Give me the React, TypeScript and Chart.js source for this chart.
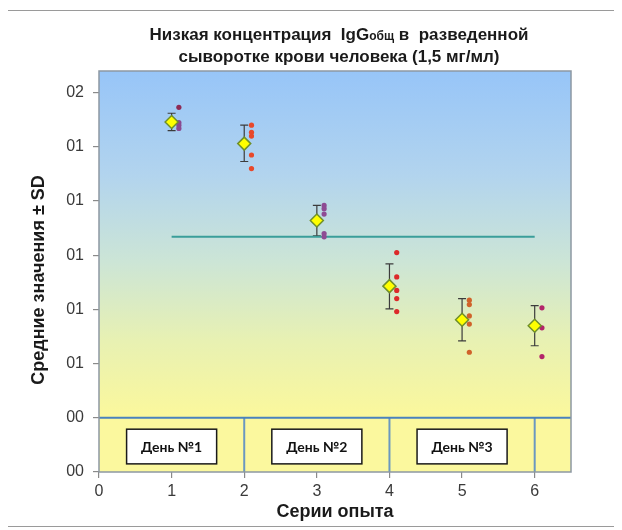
import React, { useEffect, useRef } from 'react';
import { Chart, registerables } from 'chart.js';
Chart.register(...registerables);

// ---- data ----
const seriesX = [1, 2, 3, 4, 5, 6];
const means = [6.46, 6.06, 4.64, 3.43, 2.81, 2.7];
const sdHigh = [6.62, 6.4, 4.92, 3.84, 3.2, 3.07];
const sdLow = [6.3, 5.73, 4.36, 3.01, 2.42, 2.33];
const rep1 = [6.73, 6.45, 6.4, 6.34];
const rep2 = [6.4, 6.27, 6.2, 5.85, 5.6];
const rep3 = [4.92, 4.86, 4.76, 4.4, 4.34];
const rep4 = [4.05, 3.6, 3.35, 3.2, 2.96];
const rep5 = [3.17, 3.09, 2.88, 2.73, 2.21];
const rep6 = [3.03, 2.66, 2.13];
const replicates = [rep1, rep2, rep3, rep4, rep5, rep6];
const replicateColors = [
  ['#8e2a55', '#8a4a90', '#8a4a90', '#8a4a90'],
  ['#e8482a', '#e8482a', '#e8482a', '#e8482a', '#e8482a'],
  ['#8e4b94', '#8e4b94', '#8e4b94', '#8e4b94', '#8e4b94'],
  ['#dc2a2a', '#dc2a2a', '#dc2a2a', '#dc2a2a', '#dc2a2a'],
  ['#d0622a', '#d0622a', '#d0622a', '#d0622a', '#d0622a'],
  ['#b3246a', '#b3246a', '#b3246a'],
];
const replicateOffset = 0.1;
const yTickLabels = ['00', '00', '01', '01', '01', '01', '01', '02'];
const xTickValues = [0, 1, 2, 3, 4, 5, 6];
const baselineY = 1;
const dayBoundaries = [2, 4, 6];
const dayLabels = ['День №1', 'День №2', 'День №3'];
const dayCenters = [1, 3, 5];
const refLevel = 4.34;
const refFrom = 1;
const refTo = 6;
const titleLine1 = ['Низкая концентрация  IgG', 'общ', ' в  разведенной'];
const titleLine2 = 'сыворотке крови человека (1,5 мг/мл)';
const xTitle = 'Серии опыта';
const yTitle = 'Средние значения ± SD';

const SANS = '"Liberation Sans", Arial, sans-serif';

const decorPlugin = {
  id: 'decor',
  beforeDraw(chart: any) {
    const { ctx, chartArea: a, scales } = chart;
    const yb = scales.y.getPixelForValue(baselineY);
    ctx.save();
    const g = ctx.createLinearGradient(0, a.top, 0, yb);
    g.addColorStop(0, '#97c5f8');
    g.addColorStop(0.3, '#b2d4ee');
    g.addColorStop(0.55, '#cce5d6');
    g.addColorStop(0.78, '#e8f1b2');
    g.addColorStop(1, '#fbf89c');
    ctx.fillStyle = g;
    ctx.fillRect(a.left, a.top, a.right - a.left, yb - a.top);
    ctx.fillStyle = '#fbf89e';
    ctx.fillRect(a.left, yb, a.right - a.left, a.bottom - yb);
    ctx.restore();
  },
  beforeDatasetsDraw(chart: any) {
    const { ctx, scales } = chart;
    const x = scales.x, y = scales.y;
    ctx.save();
    // error bars
    ctx.strokeStyle = '#3c3c3c';
    ctx.lineWidth = 1.2;
    seriesX.forEach((sx, i) => {
      const px = x.getPixelForValue(sx);
      const t = y.getPixelForValue(sdHigh[i]);
      const b = y.getPixelForValue(sdLow[i]);
      ctx.beginPath();
      ctx.moveTo(px, t); ctx.lineTo(px, b);
      ctx.moveTo(px - 4, t); ctx.lineTo(px + 4, t);
      ctx.moveTo(px - 4, b); ctx.lineTo(px + 4, b);
      ctx.stroke();
    });
    // day boxes
    const y0 = y.getPixelForValue(0.79);
    const y1 = y.getPixelForValue(0.15);
    dayCenters.forEach((c, i) => {
      const l = x.getPixelForValue(c - 0.62);
      const r = x.getPixelForValue(c + 0.62);
      ctx.fillStyle = '#ffffff';
      ctx.fillRect(l, y0, r - l, y1 - y0);
      ctx.strokeStyle = '#1a1a1a';
      ctx.lineWidth = 1.5;
      ctx.strokeRect(l, y0, r - l, y1 - y0);
      ctx.fillStyle = '#111';
      ctx.font = 'bold 14px Lato, "Open Sans", sans-serif';
      ctx.textAlign = 'center';
      ctx.textBaseline = 'middle';
      ctx.fillText(dayLabels[i], (l + r) / 2, (y0 + y1) / 2 + 1);
    });
    ctx.restore();
  },
  afterDraw(chart: any) {
    const { ctx, chartArea: a } = chart;
    ctx.save();
    ctx.strokeStyle = '#8d98a3';
    ctx.lineWidth = 1.5;
    ctx.strokeRect(a.left, a.top, a.right - a.left, a.bottom - a.top);
    // title
    const cx = 331;
    ctx.fillStyle = '#1a1a1a';
    ctx.textBaseline = 'middle';
    ctx.textAlign = 'left';
    const big = 'bold 17px ' + SANS;
    const small = 'bold 12px ' + SANS;
    ctx.font = big;
    const w0 = ctx.measureText(titleLine1[0]).width;
    const w2 = ctx.measureText(titleLine1[2]).width;
    ctx.font = small;
    const w1 = ctx.measureText(titleLine1[1]).width;
    let sx = cx - (w0 + w1 + w2) / 2;
    const ly1 = 24;
    ctx.font = big;
    ctx.fillText(titleLine1[0], sx, ly1);
    sx += w0;
    ctx.font = small;
    ctx.fillText(titleLine1[1], sx, ly1 + 2);
    sx += w1;
    ctx.font = big;
    ctx.fillText(titleLine1[2], sx, ly1);
    ctx.textAlign = 'center';
    ctx.fillText(titleLine2, cx, 46);
    // y axis title
    ctx.translate(31, 269);
    ctx.rotate(-Math.PI / 2);
    ctx.font = 'bold 18px ' + SANS;
    ctx.textAlign = 'center';
    ctx.fillText(yTitle, 0, 0);
    ctx.restore();
  },
};

export default function App() {
  const ref = useRef<HTMLCanvasElement>(null);
  useEffect(() => {
    if (!ref.current) return;
    const replicateSets = replicates.map((vals, i) => ({
      type: 'scatter' as const,
      data: vals.map((v) => ({ x: seriesX[i] + replicateOffset, y: v })),
      pointRadius: 2.6,
      pointBorderWidth: 0,
      pointBackgroundColor: replicateColors[i],
      pointBorderColor: replicateColors[i],
      order: 2,
    }));
    const dividerSets = dayBoundaries.map((b) => ({
      type: 'line' as const,
      data: [{ x: b, y: 0 }, { x: b, y: baselineY }],
      borderColor: '#6a98c0',
      borderWidth: 2,
      pointRadius: 0,
      order: 10,
    }));
    const chart = new Chart(ref.current, {
      type: 'scatter',
      data: {
        datasets: [
          {
            type: 'line',
            data: [{ x: 0, y: baselineY }, { x: 6.5, y: baselineY }],
            borderColor: '#4a82bd',
            borderWidth: 2,
            pointRadius: 0,
            order: 9,
          } as any,
          ...dividerSets,
          {
            type: 'line',
            data: [{ x: refFrom, y: refLevel }, { x: refTo, y: refLevel }],
            borderColor: '#3a9e9a',
            borderWidth: 2,
            pointRadius: 0,
            order: 8,
          } as any,
          ...replicateSets,
          {
            type: 'scatter',
            data: seriesX.map((sx, i) => ({ x: sx, y: means[i] })),
            pointStyle: 'rectRot',
            pointRadius: 6.5,
            pointBackgroundColor: '#ffff00',
            pointBorderColor: '#6f8f2a',
            pointBorderWidth: 1.5,
            order: 0,
          } as any,
        ],
      },
      options: {
        animation: false,
        responsive: false,
        devicePixelRatio: 1,
        layout: { padding: { top: 60, right: 45, left: 0, bottom: 0 } },
        plugins: { legend: { display: false }, tooltip: { enabled: false }, title: { display: false } },
        scales: {
          x: {
            type: 'linear',
            min: 0,
            max: 6.5,
            afterBuildTicks: (s: any) => { s.ticks = xTickValues.map((v) => ({ value: v })); },
            afterFit: (s: any) => { s.height = 54; },
            grid: { drawOnChartArea: false, drawTicks: true, tickLength: 6, color: '#8a8a8a', lineWidth: 1.2 },
            border: { display: false },
            ticks: { font: { family: SANS, size: 16 }, color: '#3a3a3a', padding: 4, maxRotation: 0 },
            title: { display: true, text: xTitle, font: { family: SANS, size: 18, weight: 'bold' }, color: '#1a1a1a', padding: { top: 0, bottom: 3 } },
          },
          y: {
            type: 'linear',
            min: 0,
            max: 7.4,
            afterBuildTicks: (s: any) => { s.ticks = yTickLabels.map((_, i) => ({ value: i })); },
            afterFit: (s: any) => { s.width = 91; },
            grid: { drawOnChartArea: false, drawTicks: true, tickLength: 6, color: '#8a8a8a', lineWidth: 1.2 },
            border: { display: false },
            ticks: {
              font: { family: SANS, size: 16 },
              color: '#3a3a3a',
              padding: 9,
              callback: (v: any) => yTickLabels[Math.round(Number(v))] ?? '',
            },
            title: { display: false },
          },
        },
      } as any,
      plugins: [decorPlugin],
    });
    return () => chart.destroy();
  }, []);
  return (
    <div style={{ width: 608, height: 515, border: '1px solid #9a9a9a', marginLeft: -1, marginTop: 2 }}>
      <canvas ref={ref} width={608} height={515} style={{ display: 'block' }} />
    </div>
  );
}
